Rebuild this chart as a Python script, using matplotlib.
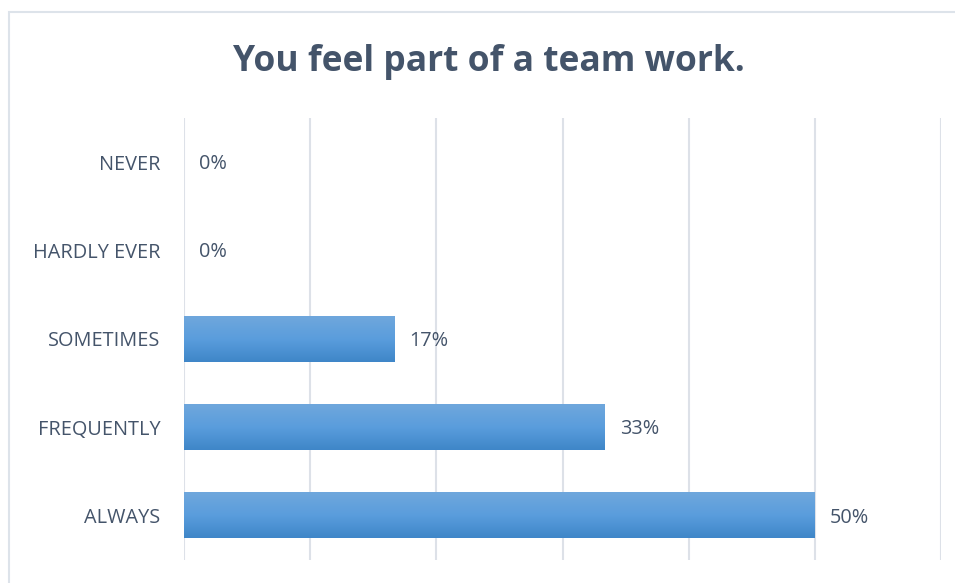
import matplotlib
matplotlib.use("Agg")
import matplotlib.pyplot as plt
import numpy as np
from matplotlib.colors import LinearSegmentedColormap
from matplotlib.patches import Rectangle

# Survey answers, top to bottom as shown
categories = ["NEVER", "HARDLY EVER", "SOMETIMES", "FREQUENTLY", "ALWAYS"]
shares = [0.0, 0.0, 100 / 6, 100 / 3, 50.0]  # percent of respondents
title = "You feel part of a team work."

text_color = "#44546A"
grid_color = "#DDE1E8"
bar_cmap = LinearSegmentedColormap.from_list("bar", ["#6FA7DC", "#5A9DDD", "#3F86C8"])

plt.rcParams["font.family"] = ["Open Sans", "DejaVu Sans"]

W, H = 955, 583
fig = plt.figure(figsize=(W / 100, H / 100), dpi=100)
fig.patch.set_facecolor("white")

# light frame around the chart area
fig.patches.append(Rectangle((9 / W, -0.05), 1.2, (H - 12.5) / H + 0.05,
                             transform=fig.transFigure, fill=False,
                             edgecolor="#DDE3EA", linewidth=1.5, zorder=0))

ax = fig.add_axes([184 / W, 1 - 560 / H, (941 - 184) / W, (560 - 118) / H])
ax.set_facecolor("none")

for s in ax.spines.values():
    s.set_visible(False)

ax.set_xticks(np.arange(0, 61, 10))
ax.tick_params(axis="x", length=0, labelbottom=False)
ax.xaxis.grid(True, color=grid_color, linewidth=1.5)
ax.set_axisbelow(True)

ypos = np.arange(len(categories))
ax.set_yticks(ypos)
ax.set_yticklabels(categories, color=text_color, fontsize=14.3)
ax.tick_params(axis="y", length=0, pad=17)

bar_h = 0.51
grad = np.linspace(0, 1, 64).reshape(-1, 1)
for y, v in zip(ypos, shares):
    if v > 0:
        ax.imshow(grad, cmap=bar_cmap, aspect="auto", interpolation="bilinear",
                  extent=(0, v, y + bar_h / 2, y - bar_h / 2), zorder=2)
    ax.text(v + 1.2, y + 0.02, f"{v:.0f}%", va="center", ha="left",
            color=text_color, fontsize=14.3, zorder=3)

ax.set_xlim(0, 60)
ax.set_ylim(len(categories) - 0.5, -0.5)

fig.text((233 + 745) / 2 / W, 1 - 62 / H, title, ha="center", va="center",
         fontsize=25.5, fontweight="bold", color=text_color)

fig.savefig("out.png", dpi=100, facecolor="white")
